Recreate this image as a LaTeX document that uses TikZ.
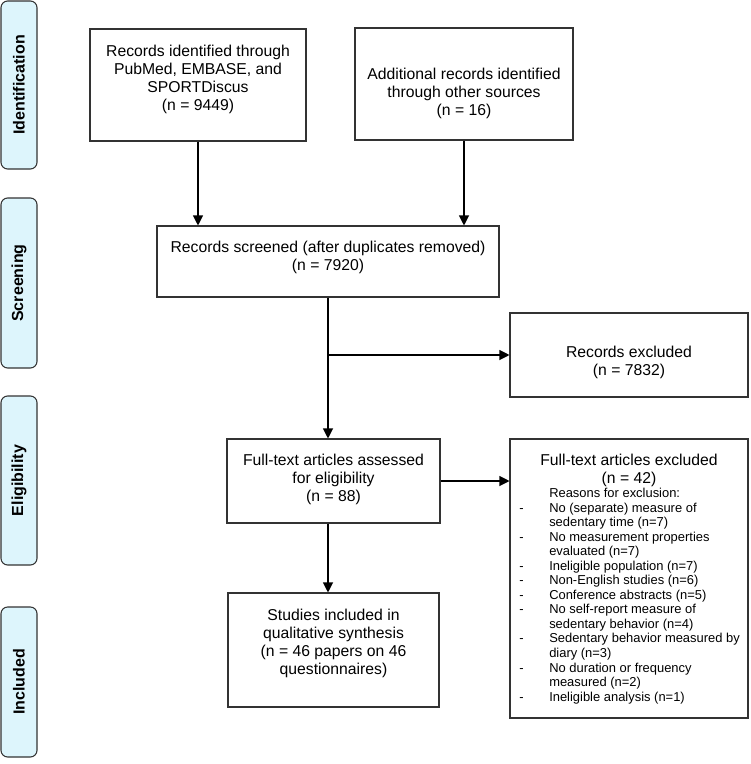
\documentclass[tikz,border=0pt]{standalone}
\usepackage{fontspec}
\setmainfont{Liberation Sans}
\usetikzlibrary{arrows.meta}
\definecolor{phasefill}{HTML}{DDF5FC}
\definecolor{edge}{HTML}{333333}
\begin{document}
\begin{tikzpicture}[x=0.75pt,y=-0.75pt,
  box/.style={draw=edge, line width=0.8pt, fill=white, inner sep=0pt},
  phase/.style={draw=edge, fill=phasefill, rounded corners=5pt, line width=0.8pt,
    inner sep=0pt, minimum width=27pt},
  phasetext/.style={rotate=90, font=\fontsize{12}{14}\selectfont\bfseries},
  txt/.style={align=center, inner sep=0pt, font=\fontsize{11.8}{13.5}\selectfont},
  lst/.style={align=left, inner sep=0pt, font=\fontsize{9.7}{10.9}\selectfont},
  arr/.style={draw=black, line width=0.8pt, -{Triangle[width=7.5pt,length=7.5pt]}},
  ln/.style={draw=black, line width=0.8pt}
]
\useasboundingbox (0,0) rectangle (750,764);

% phase labels
\node[phase, minimum height=126pt] (pid) at (19,85) {};
\node[phasetext] (tid) at (pid.center) {Identification};
\node[phase, minimum height=127.5pt] (psc) at (19,283) {};
\node[phasetext] (tsc) at (psc.center) {Screening};
\node[phase, minimum height=126.75pt] (pel) at (19,480.5) {};
\node[phasetext] (tel) at (pel.center) {Eligibility};
\node[phase, minimum height=112.5pt] (pin) at (19,682) {};
\node[phasetext] (tin) at (pin.center) {Included};

% boxes
\node[box, minimum width=162pt, minimum height=84pt] (b1) at (198,85) {};
\node[txt] (t1) at (198,79) {Records identified through\\PubMed, EMBASE, and\\SPORTDiscus\\(n = 9449)};
\node[box, minimum width=163.5pt, minimum height=84pt] (b2) at (464,84) {};
\node[txt] (t2) at (464,93) {Additional records identified\\through other sources\\(n = 16)};
\node[box, minimum width=256.5pt, minimum height=53.25pt] (scr) at (328,261.5) {};
\node[txt] (tscr) at (328,257.5) {Records screened (after duplicates removed)\\(n = 7920)};
\node[box, minimum width=178.5pt, minimum height=63pt] (rex) at (629,355) {};
\node[txt] (trex) at (629,362.5) {Records excluded\\(n = 7832)};
\node[box, minimum width=159.75pt, minimum height=63pt] (ass) at (333.5,481) {};
\node[txt] (tass) at (333.5,479) {Full-text articles assessed\\for eligibility\\(n = 88)};
\node[box, minimum width=178.5pt, minimum height=209.25pt] (ftx) at (629,578.5) {};
\node[txt] (tftx) at (629,470) {Full-text articles excluded\\(n = 42)};
\node[lst, anchor=north west] (lftx) at (519,488) {%
\hspace*{22.5pt}Reasons for exclusion:\\
\makebox[22.5pt][l]{-}No (separate) measure of\\
\hspace*{22.5pt}sedentary time (n=7)\\
\makebox[22.5pt][l]{-}No measurement properties\\
\hspace*{22.5pt}evaluated (n=7)\\
\makebox[22.5pt][l]{-}Ineligible population (n=7)\\
\makebox[22.5pt][l]{-}Non-English studies (n=6)\\
\makebox[22.5pt][l]{-}Conference abstracts (n=5)\\
\makebox[22.5pt][l]{-}No self-report measure of\\
\hspace*{22.5pt}sedentary behavior (n=4)\\
\makebox[22.5pt][l]{-}Sedentary behavior measured by\\
\hspace*{22.5pt}diary (n=3)\\
\makebox[22.5pt][l]{-}No duration or frequency\\
\hspace*{22.5pt}measured (n=2)\\
\makebox[22.5pt][l]{-}Ineligible analysis (n=1)};
\node[box, minimum width=158.25pt, minimum height=85.5pt] (inc) at (333.5,650) {};
\node[txt] (tinc) at (333.5,643.5) {Studies included in\\qualitative synthesis\\(n = 46 papers on 46\\questionnaires)};

% connectors
\draw[arr] (b1.south) -- (b1.south |- scr.north);
\draw[arr] (b2.south) -- (b2.south |- scr.north);
\draw[arr] (scr.south) -- (scr.south |- ass.north);
\coordinate (br) at (scr.south |- rex.west);
\draw[arr] (br) -- (rex.west);
\draw[arr] (ass.east) -- (ass.east -| ftx.west);
\draw[arr] (scr.south |- ass.south) -- (scr.south |- inc.north);
\end{tikzpicture}
\end{document}
